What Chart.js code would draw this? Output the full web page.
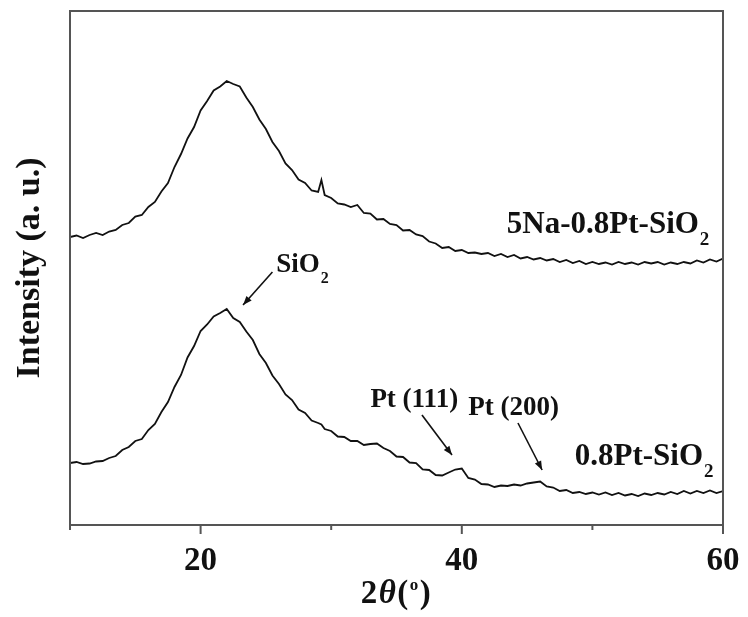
<!DOCTYPE html>
<html>
<head>
<meta charset="utf-8">
<script src="https://cdn.jsdelivr.net/npm/chart.js@4.4.1/dist/chart.umd.min.js"></script>
<style>
html,body{margin:0;padding:0;background:#fff;}
#wrap{width:748px;height:617px;position:relative;}
</style>
</head>
<body>
<div id="wrap"><canvas id="xrdChart"></canvas></div>
<script>
// 2theta (deg) scan positions
const twoTheta=[10,10.5,11,11.5,12,12.5,13,13.5,14,14.5,15,15.5,16,16.5,17,17.5,18,18.5,19,19.5,
  20,20.5,21,21.5,22,22.5,23,23.5,24,24.5,25,25.5,26,26.5,27,27.5,28,28.5,29,29.25,29.5,
  30,30.5,31,31.5,32,32.5,33,33.5,34,34.5,35,35.5,36,36.5,37,37.5,38,38.5,39,39.5,
  40,40.5,41,41.5,42,42.5,43,43.5,44,44.5,45,45.5,46,46.5,47,47.5,48,48.5,49,49.5,
  50,50.5,51,51.5,52,52.5,53,53.5,54,54.5,55,55.5,56,56.5,57,57.5,58,58.5,59,59.5,60];

// intensity (a.u., offset traces)
const naPtSiO2=[576,579,574,580,584,580,587,590,600,604,617,620,636,646,667,684,716,742,773,796,
  829,848,869,877,888,882,877,855,836,811,792,766,748,723,710,691,684,669,666,690,660,
  654,643,641,636,640,624,623,611,612,602,600,589,590,581,578,567,563,554,556,548,
  550,544,545,542,544,538,542,536,540,533,536,531,534,529,532,526,530,524,528,522,
  526,522,525,521,526,522,525,521,526,523,526,521,525,522,526,523,529,525,531,527,533];

const ptSiO2=[124,126,122,123,127,128,134,138,150,156,168,172,190,202,226,246,276,300,335,358,
  388,401,417,424,432,414,406,387,370,342,324,299,282,261,250,231,224,209,204,201,192,
  188,177,176,168,168,160,162,163,154,148,137,136,125,124,111,110,100,99,105,111,
  113,94,91,82,81,76,79,78,81,79,83,85,87,77,75,68,70,64,66,62,
  65,61,65,60,64,59,62,58,63,60,64,61,66,62,68,63,68,64,69,64,68];

const seriesNames=['5Na-0.8Pt-SiO2','0.8Pt-SiO2'];
const xTickLabels=[20,40,60];

// annotation anchors in data units [2theta, intensity]
const sampleNotes=[
  {text:'5Na-0.8Pt-SiO',sub:'2',at:[43.45,584]},
  {text:'0.8Pt-SiO',sub:'2',at:[48.65,120]}
];
const peakNotes=[
  {text:'SiO',sub:'2',at:[25.8,506],from:[25.5,506],to:[23.25,440]},
  {text:'Pt (111)',sub:'',at:[33.0,236],from:[36.95,220],to:[39.25,140]},
  {text:'Pt (200)',sub:'',at:[40.5,220],from:[44.3,204],to:[46.15,110]}
];

const SERIF="'Liberation Serif','Times New Roman',serif";

function chemText(ctx,t,sub,x,y,size){
  ctx.font='bold '+size+'px '+SERIF;
  ctx.fillText(t,x,y);
  if(!sub) return;
  const w=ctx.measureText(t).width;
  ctx.font='bold '+Math.round(size*0.6)+'px '+SERIF;
  ctx.fillText(sub,x+w+1,y+size*0.39);
}

function arrow(ctx,x1,y1,x2,y2){
  ctx.beginPath();ctx.moveTo(x1,y1);ctx.lineTo(x2,y2);ctx.stroke();
  const a=Math.atan2(y2-y1,x2-x1),L=9,W=3.5;
  ctx.beginPath();
  ctx.moveTo(x2,y2);
  ctx.lineTo(x2-L*Math.cos(a)+W*Math.sin(a),y2-L*Math.sin(a)-W*Math.cos(a));
  ctx.lineTo(x2-L*Math.cos(a)-W*Math.sin(a),y2-L*Math.sin(a)+W*Math.cos(a));
  ctx.closePath();ctx.fill();
}

const decor={
  id:'decor',
  afterDatasetsDraw(chart){
    const ctx=chart.ctx,a=chart.chartArea,sx=chart.scales.x,sy=chart.scales.y;
    ctx.save();
    // frame
    ctx.strokeStyle='#555';ctx.lineWidth=2;
    ctx.strokeRect(a.left,a.top,a.right-a.left,a.bottom-a.top);
    // ticks
    sx.ticks.forEach(t=>{
      const px=sx.getPixelForValue(t.value),len=t.value%20===0?9:5;
      ctx.beginPath();ctx.moveTo(px,a.bottom);ctx.lineTo(px,a.bottom+len);ctx.stroke();
    });
    // notes
    ctx.fillStyle='#111';ctx.strokeStyle='#111';ctx.lineWidth=1.6;
    ctx.textAlign='left';ctx.textBaseline='alphabetic';
    sampleNotes.forEach(n=>chemText(ctx,n.text,n.sub,sx.getPixelForValue(n.at[0]),sy.getPixelForValue(n.at[1]),31));
    peakNotes.forEach(n=>{
      chemText(ctx,n.text,n.sub,sx.getPixelForValue(n.at[0]),sy.getPixelForValue(n.at[1]),27);
      arrow(ctx,sx.getPixelForValue(n.from[0]),sy.getPixelForValue(n.from[1]),sx.getPixelForValue(n.to[0]),sy.getPixelForValue(n.to[1]));
    });
    // x title: 2θ(°)
    const parts=[['2','bold 33px '+SERIF,0],['θ','italic bold 33px '+SERIF,0],['(','bold 33px '+SERIF,0],['o','bold 17px '+SERIF,-13],[')','bold 33px '+SERIF,0]];
    let tw=0;
    parts.forEach(p=>{ctx.font=p[1];p.push(ctx.measureText(p[0]).width+1.5);tw+=p[3];});
    let x=(a.left+a.right)/2-tw/2;
    parts.forEach(p=>{ctx.font=p[1];ctx.fillText(p[0],x,603+p[2]);x+=p[3];});
    ctx.restore();
  }
};

new Chart(document.getElementById('xrdChart'),{
  type:'line',
  data:{datasets:[
    {label:seriesNames[0],data:twoTheta.map((t,i)=>({x:t,y:naPtSiO2[i]})),borderColor:'#111',borderWidth:1.8,pointRadius:0,tension:0},
    {label:seriesNames[1],data:twoTheta.map((t,i)=>({x:t,y:ptSiO2[i]})),borderColor:'#111',borderWidth:1.8,pointRadius:0,tension:0}
  ]},
  options:{
    responsive:true,maintainAspectRatio:false,animation:false,
    layout:{padding:{top:11,right:25,left:0,bottom:0}},
    plugins:{legend:{display:false},tooltip:{enabled:false}},
    scales:{
      x:{type:'linear',min:10,max:60,
        grid:{display:false,drawTicks:false},border:{display:false},
        ticks:{stepSize:10,autoSkip:false,maxRotation:0,padding:17,color:'#111',
          font:{family:SERIF,size:33,weight:'bold'},
          callback:v=>xTickLabels.includes(v)?String(v):''},
        afterFit:s=>{s.height=92;s.paddingLeft=0;s.paddingRight=0;}},
      y:{min:0,max:1028,
        grid:{display:false,drawTicks:false},border:{display:false},
        ticks:{display:false},
        title:{display:true,text:'Intensity (a. u.)',color:'#111',padding:{top:10,bottom:0},
          font:{family:SERIF,size:34,weight:'bold'}},
        afterFit:s=>{s.width=70;s.paddingTop=0;s.paddingBottom=0;}}
    }
  },
  plugins:[decor]
});
</script>
</body>
</html>
